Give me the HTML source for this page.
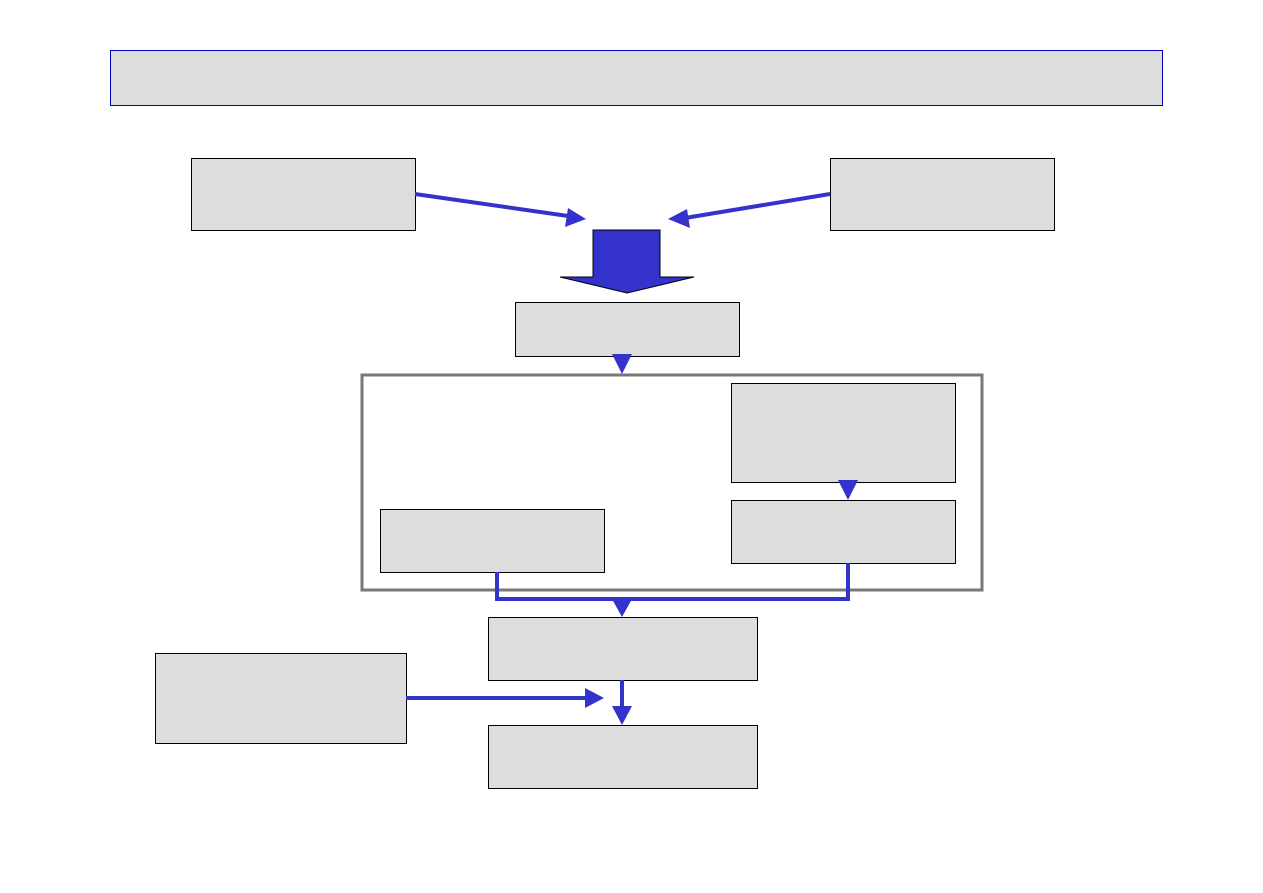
<!DOCTYPE html>
<html><head><meta charset="utf-8"><style>html,body{margin:0;padding:0;background:#fff}svg{display:block}</style></head>
<body>
<svg width="1263" height="893" viewBox="0 0 1263 893" xmlns="http://www.w3.org/2000/svg">
<rect x="0" y="0" width="1263" height="893" fill="#fff"/>
<rect x="110.5" y="50.5" width="1052" height="55" fill="#dddddd" stroke="#0000c0" stroke-width="1"/>
<g fill="#dddddd" stroke="#000" stroke-width="1">
<rect x="191.5" y="158.5" width="224" height="72"/>
<rect x="830.5" y="158.5" width="224" height="72"/>
<rect x="515.5" y="302.5" width="224" height="54"/>
<rect x="731.5" y="383.5" width="224" height="99"/>
<rect x="731.5" y="500.5" width="224" height="63"/>
<rect x="380.5" y="509.5" width="224" height="63"/>
<rect x="488.5" y="617.5" width="269" height="63"/>
<rect x="155.5" y="653.5" width="251" height="90"/>
<rect x="488.5" y="725.5" width="269" height="63"/>
</g>
<rect x="362" y="375" width="620" height="215" fill="none" stroke="#777" stroke-width="3"/>
<g stroke="#3333cc" stroke-width="4" fill="none">
<line x1="415" y1="194" x2="568" y2="216"/>
<line x1="830" y1="194" x2="685" y2="218"/>
<polyline points="497,572 497,599 848,599 848,563"/>
<line x1="622" y1="680" x2="622" y2="708"/>
<line x1="406" y1="698" x2="588" y2="698"/>
</g>
<g fill="#3333cc">
<polygon points="586,219 565,227 568,208"/>
<polygon points="668,219 687,209 690,228"/>
<polygon points="593,230 660,230 660,277 694,277 627,293 560,277 593,277" stroke="#000" stroke-width="1"/>
<polygon points="612,354 632,354 622,374"/>
<polygon points="838,480 858,480 848,500"/>
<polygon points="612,599 632,599 622,617"/>
<polygon points="612,706 632,706 622,725"/>
<polygon points="604,698 585,688 585,708"/>
</g>
</svg>
</body></html>
